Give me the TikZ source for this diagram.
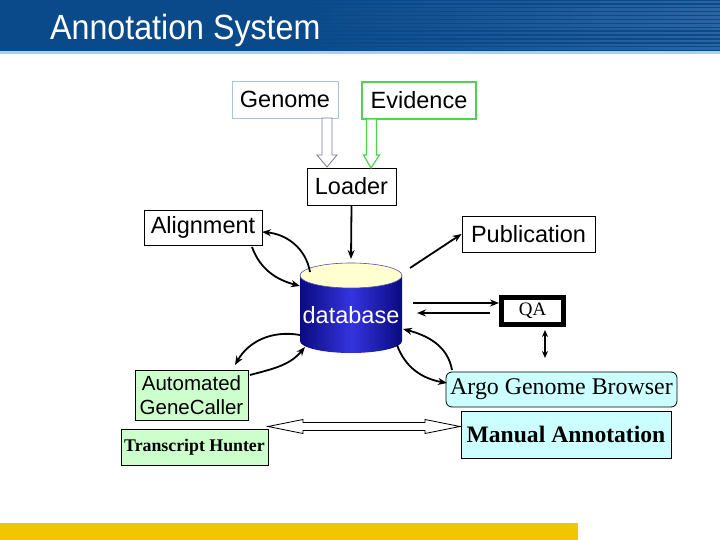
\documentclass[tikz,border=0pt]{standalone}
\usepackage{fontspec}
\setmainfont{Liberation Serif}
\newfontfamily\arial{Liberation Sans}
\usetikzlibrary{arrows.meta,calc}
\definecolor{hdr}{HTML}{0B4A8A}
\definecolor{hdrline}{HTML}{2C64A2}
\definecolor{hdrbot}{HTML}{A8D0F0}
\definecolor{yellowbar}{HTML}{F2C500}
\definecolor{gbord}{HTML}{A8C4DC}
\definecolor{ebord}{HTML}{4CD44C}
\definecolor{lgreen}{HTML}{CCFFCC}
\definecolor{lcyan}{HTML}{CCFFFF}
\definecolor{dbdark}{HTML}{0A0A80}
\definecolor{dbmid}{HTML}{3434E0}
\definecolor{dbtop}{HTML}{FFFFD0}
\definecolor{garrow}{HTML}{7878A0}
\begin{document}
\begin{tikzpicture}[x=1pt,y=1pt,
  box/.style={draw=black,line width=0.8pt,inner sep=0pt,align=center},
  sans/.style={font=\arial\fontsize{23.5}{28}\selectfont},
  arr/.style={line width=1.8pt,-{Stealth[length=9pt,width=7pt]}},
  hollow/.style={fill=white,line width=0.8pt}]
\useasboundingbox (0,0) rectangle (720,540);
\fill[white] (0,0) rectangle (720,540);
% header
\fill[hdr] (0,489) rectangle (720,540);
\foreach \i in {0,...,12} \shade[left color=hdr,right color=hdrline] (300,490.5+3.9*\i) rectangle (720,492+3.9*\i);
\fill[hdrbot] (0,486) rectangle (720,489);
\node[anchor=base west,text=white,inner sep=0pt,font=\arial\fontsize{35}{35}\selectfont] (title) at (50,500) {\scalebox{0.92}[1]{Annotation System}};
% bottom bar
\fill[fill=yellowbar] (0,0) rectangle (578,17);
% boxes
\node[box,draw=gbord,sans,minimum width=106,minimum height=37] (genome) at (285,440.5) {Genome};
\node[box,draw=ebord,line width=1.3pt,sans,minimum width=114,minimum height=37] (evid) at (419,439.5) {Evidence};
\node[box,sans,minimum width=89,minimum height=37] (loader) at (351.5,353.5) {Loader};
\node[box,sans,minimum width=118,minimum height=35] (al) at (203,312.5) {Alignment};
\node[box,sans,minimum width=133,minimum height=36] (pub) at (528.5,306) {Publication};
\node[draw=black,line width=5pt,minimum width=62,minimum height=27,inner sep=0pt,font=\fontsize{19}{20}\selectfont] (qa) at (532.5,229) {QA};
\node[box,fill=lcyan,rounded corners=6pt,minimum width=231,minimum height=35,font=\fontsize{23.9}{28}\selectfont] (argo) at (561.5,150.5) {Argo Genome Browser};
\node[box,fill=lcyan,minimum width=210,minimum height=47,font=\bfseries\fontsize{23.6}{28}\selectfont] (man) at (566,105.5) {Manual Annotation};
\node[box,fill=lgreen,minimum width=113,minimum height=50,font=\arial\fontsize{20.5}{24}\selectfont] (auto) at (191.5,145) {Automated\\GeneCaller};
\node[box,fill=lgreen,minimum width=147,minimum height=36,font=\bfseries\fontsize{17.8}{20}\selectfont] (trans) at (194.5,93) {Transcript Hunter};
% database cylinder
\shade[left color=dbdark,right color=dbdark,middle color=dbmid] (300,264.5) -- (300,199) arc[start angle=180,end angle=360,x radius=51,y radius=12] -- (402,264.5) -- cycle;
\filldraw[fill=dbtop,draw=dbdark!70,line width=0.6pt] (351,264.5) ellipse [x radius=51,y radius=12.5];
\node[sans,text=white,inner sep=0pt] (db) at (351,225) {database};
% named end points
\coordinate (dbTop) at (351,281);
\coordinate (dbPub) at (410,272);
\coordinate (dbQ1) at (413,237);
\coordinate (dbQ2) at (417,227);
\coordinate (qQ2) at (490,227);
\coordinate (qv1) at (545,210);
\coordinate (qv2) at (545,182);
\coordinate (dbA1) at (310,268);
\coordinate (alE) at (262,308);
\coordinate (alS) at (252,293);
\coordinate (dbA2) at (300,254);
\coordinate (dbB1) at (300,205);
\coordinate (auN) at (235,175);
\coordinate (auE) at (250,165);
\coordinate (dbB2) at (305,193);
\coordinate (arN) at (452,170);
\coordinate (dbC1) at (403,211);
\coordinate (dbC2) at (397,195);
\coordinate (arW) at (447,157);
\coordinate (gA) at (327,422);
\coordinate (gB) at (327,373);
\coordinate (eA) at (371.5,421);
\coordinate (eB) at (371,372);
\coordinate (thL) at (268,113.5);
\coordinate (thR) at (460,113.5);
% hollow arrows
\draw[hollow,draw=garrow] let \p1=(gA),\p2=(gB) in (\x1-5pt,\y1) -- (\x1+5pt,\y1) -- (\x1+5pt,\y2+12pt) -- (\x1+10pt,\y2+12pt) -- (\p2) -- (\x1-10pt,\y2+12pt) -- (\x1-5pt,\y2+12pt) -- cycle;
\draw[hollow,draw=ebord,line width=1.2pt] let \p1=(eA),\p2=(eB) in (\x1-5pt,\y1) -- (\x1+5pt,\y1) -- (\x1+5pt,\y2+13pt) -- (\x1+8pt,\y2+13pt) -- (\p2) -- (\x1-8pt,\y2+13pt) -- (\x1-5pt,\y2+13pt) -- cycle;
\draw[hollow,draw=black] let \p1=(thL),\p2=(thR) in (\p1) -- (\x1+35pt,\y1+7pt) -- (\x1+35pt,\y1+4pt) -- (\x2-35pt,\y2+4pt) -- (\x2-35pt,\y2+7pt) -- (\p2) -- (\x2-35pt,\y2-7pt) -- (\x2-35pt,\y2-4pt) -- (\x1+35pt,\y1-4pt) -- (\x1+35pt,\y1-7pt) -- cycle;
% connectors
\draw[arr] (loader.south) -- (dbTop);
\draw[arr] (dbPub) -- (pub.west);
\draw[arr] (dbQ1) -- (dbQ1 -| qa.west);
\draw[arr] (qQ2) -- (dbQ2);
\draw[line width=1.6pt,{Stealth[length=7pt,width=6pt]}-{Stealth[length=7pt,width=6pt]}] (qv1) -- (qv2);
\draw[arr] (dbA1) to[out=100,in=-5] (alE);
\draw[arr] (alS) to[out=-70,in=165] (dbA2);
\draw[arr] (dbB1) to[out=170,in=60] (auN);
\draw[arr] (auE) to[out=15,in=-130] (dbB2);
\draw[arr] (arN) to[out=100,in=-15] (dbC1);
\draw[arr] (dbC2) to[out=-70,in=170] (arW);
\end{tikzpicture}
\end{document}
